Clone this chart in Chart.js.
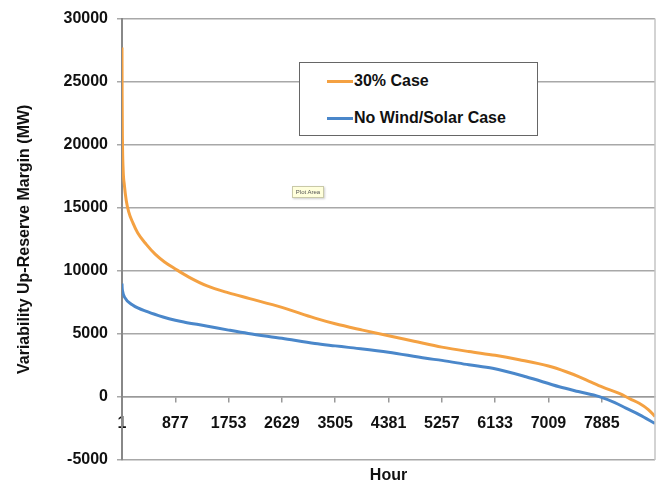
<!DOCTYPE html>
<html lang="en">
<head>
    <meta charset="UTF-8">
    <title>Variability Up-Reserve Margin</title>
    <script src="https://cdn.jsdelivr.net/npm/chart.js"></script>
    <style>
        body { margin: 0; background: #fff; }
        #wrap { position: relative; width: 656px; height: 482px; }
        #legend {
            position: absolute; left: 299px; top: 62px; width: 237px; height: 72px;
            background: #fff; border: 1.5px solid #666;
            font: bold 16px "Liberation Sans", Arial, sans-serif; color: #111;
        }
        #legend .item { position: absolute; left: 27px; display: flex; align-items: center; }
        #legend .swatch { width: 26px; height: 3px; margin-right: 1px; }
        #tip {
            position: absolute; left: 292px; top: 186px; width: 30px; height: 10px;
            background: #ffffdc; border: 1px solid #c9c9a8; box-shadow: 1px 1px 2px rgba(0,0,0,0.2);
            font: 6px "Liberation Sans", Arial, sans-serif; color: #555; line-height: 10px; text-align: center;
        }
    </style>
</head>
<body>
    <div id="wrap">
        <canvas id="reserveChart" width="656" height="482"></canvas>
        <div id="legend"></div>
        <div id="tip">Plot Area</div>
    </div>

    <script>
        // 시간축 눈금 (Excel 카테고리 라벨)
        const hourTicks = [1, 877, 1753, 2629, 3505, 4381, 5257, 6133, 7009, 7885];

        // 30% Case (정렬된 지속곡선, 그림에서 읽은 값)
        const case30Hours  = [1, 3, 8, 20, 40, 70, 110, 180, 260, 400, 550, 700, 877, 1100, 1400, 1753, 2100, 2629, 3172, 3505, 3955, 4381, 4800, 5257, 5700, 6133, 6529, 7009, 7300, 7515, 7700, 7900, 8172, 8350, 8500, 8650, 8760];
        const case30Values = [27700, 24000, 20500, 18000, 16800, 15600, 14700, 13800, 13000, 12100, 11300, 10700, 10150, 9500, 8800, 8250, 7800, 7100, 6250, 5800, 5300, 4850, 4420, 3950, 3600, 3300, 2950, 2450, 2000, 1600, 1200, 780, 280, -150, -500, -1000, -1550];

        // No Wind/Solar Case
        const baseHours  = [1, 3, 10, 45, 182, 428, 675, 877, 1031, 1387, 1753, 2076, 2629, 3172, 3505, 3720, 4381, 4996, 5257, 5700, 6091, 6639, 7187, 7500, 7844, 8100, 8282, 8500, 8760];
        const baseValues = [9000, 8700, 8400, 7900, 7270, 6740, 6340, 6080, 5930, 5630, 5300, 5030, 4650, 4240, 4050, 3930, 3550, 3060, 2900, 2550, 2270, 1600, 810, 430, 30, -450, -890, -1400, -2100];

        const seriesNames  = ['30% Case', 'No Wind/Solar Case'];
        const seriesColors = ['#f4a142', '#4a87ca'];

        const toPoints = (xs, ys) => xs.map((h, i) => ({ x: h, y: ys[i] }));

        Chart.defaults.font.family = '"Liberation Sans", Arial, sans-serif';
        Chart.defaults.color = '#111';

        // 오른쪽 테두리
        const frame = {
            id: 'frame',
            afterDraw(chart) {
                const { ctx, chartArea: a } = chart;
                ctx.save();
                ctx.strokeStyle = '#c4c4c4';
                ctx.lineWidth = 1.5;
                ctx.beginPath();
                ctx.moveTo(a.right, a.top);
                ctx.lineTo(a.right, a.bottom);
                ctx.stroke();
                ctx.restore();
            }
        };

        const ctx = document.getElementById('reserveChart').getContext('2d');
        const chart = new Chart(ctx, {
            type: 'line',
            data: {
                datasets: [
                    { label: seriesNames[0], data: toPoints(case30Hours, case30Values) },
                    { label: seriesNames[1], data: toPoints(baseHours, baseValues) }
                ].map((d, i) => Object.assign(d, {
                    borderColor: seriesColors[i],
                    backgroundColor: seriesColors[i],
                    borderWidth: 3,
                    pointRadius: 0,
                    fill: false,
                    cubicInterpolationMode: 'monotone'
                }))
            },
            options: {
                responsive: false,
                animation: false,
                layout: { padding: { left: 0, top: 17, right: 1, bottom: 22 } },
                plugins: { legend: { display: false }, tooltip: { enabled: false } },
                scales: {
                    x: {
                        type: 'linear',
                        position: { y: 0 },
                        min: 1,
                        max: 8760,
                        afterBuildTicks(scale) { scale.ticks = hourTicks.map(v => ({ value: v })); },
                        ticks: {
                            font: { size: 16, weight: 'bold' }, padding: 12, maxRotation: 0, autoSkip: false,
                            callback: v => String(v)
                        },
                        grid: { drawOnChartArea: false, tickLength: 5, color: '#999', lineWidth: 1.5 },
                        border: { color: '#999', width: 1.5 },
                        title: { display: true, text: 'Hour', font: { size: 16, weight: 'bold' }, padding: { top: 21, bottom: 0 } }
                    },
                    y: {
                        min: -5000,
                        max: 30000,
                        afterFit(scale) { scale.width = 122; },
                        ticks: { stepSize: 5000, font: { size: 16, weight: 'bold' }, padding: 9, callback: v => String(v) },
                        grid: { color: '#a8a8a8', lineWidth: 1.5, tickLength: 5 },
                        border: { color: '#888', width: 2 },
                        title: { display: true, text: 'Variability Up-Reserve Margin (MW)', font: { size: 16, weight: 'bold' }, padding: { top: 15, bottom: 0 } }
                    }
                }
            },
            plugins: [frame]
        });

        // 범례 (데이터셋에서 생성)
        const legend = document.getElementById('legend');
        chart.data.datasets.forEach((ds, i) => {
            const item = document.createElement('div');
            item.className = 'item';
            item.style.top = (i === 0 ? 9 : 46) + 'px';
            item.innerHTML = '<span class="swatch" style="background:' + ds.borderColor + '"></span>' + ds.label;
            legend.appendChild(item);
        });
    </script>
</body>
</html>
